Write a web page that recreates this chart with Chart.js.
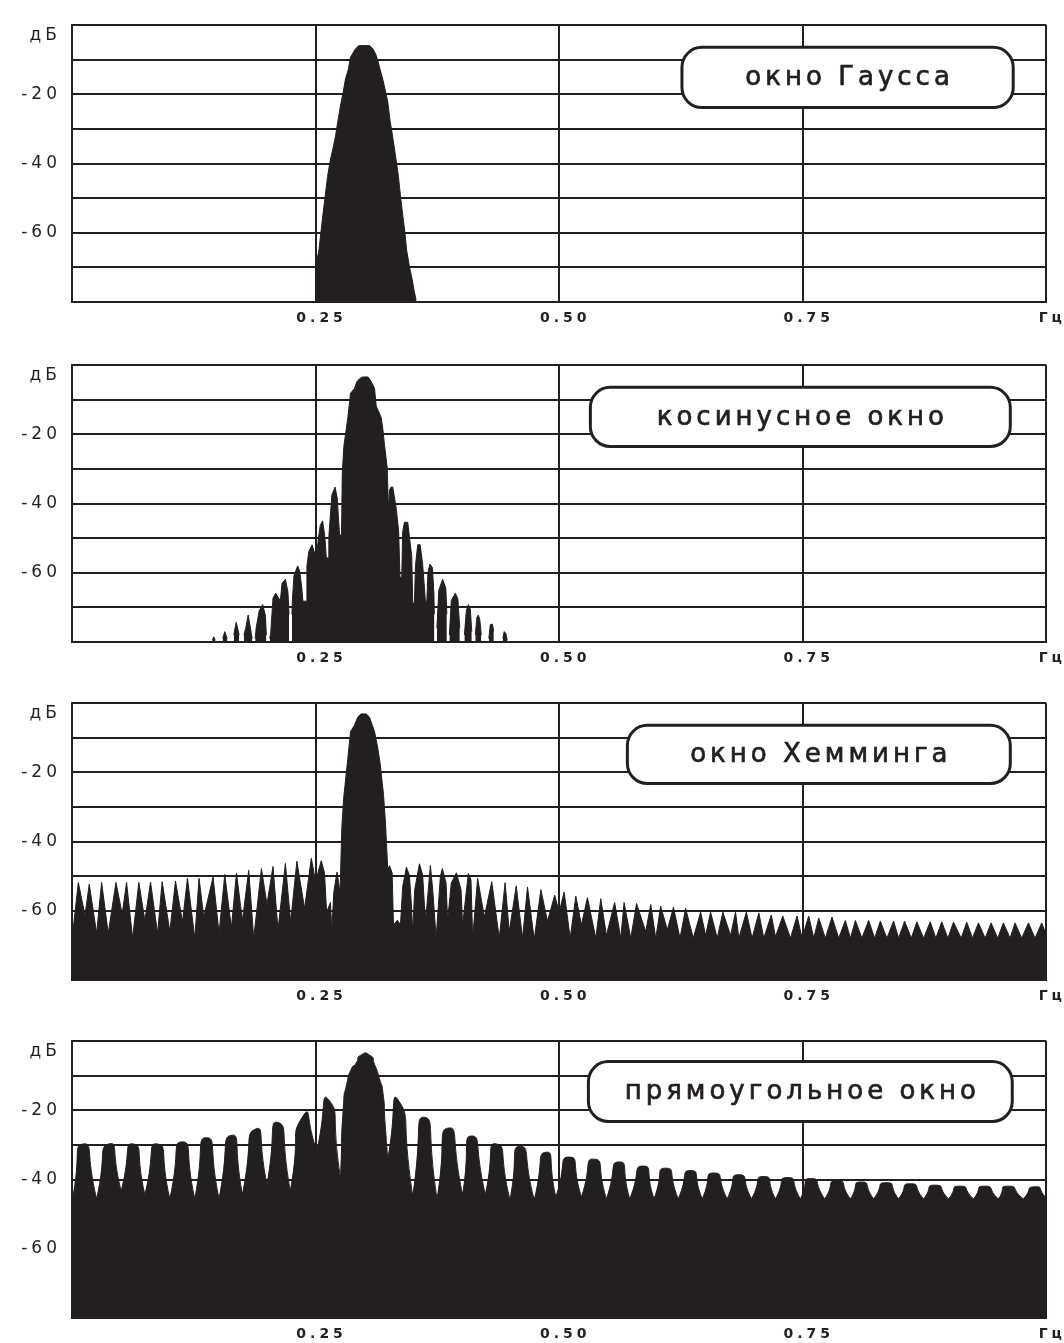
<!DOCTYPE html>
<html>
<head>
<meta charset="utf-8">
<script src="https://cdn.jsdelivr.net/npm/chart.js@4.4.1/dist/chart.umd.min.js"></script>
<style>
  html, body { margin: 0; padding: 0; background: #fff; overflow: hidden; }
  #sheet { position: relative; width: 1064px; height: 1343px; }
  #sheet canvas { position: absolute; left: 0; width: 1064px; height: 322px; }
</style>
</head>
<body>
<div id="sheet">
  <canvas id="gauss" width="1064" height="322" style="top:4px"></canvas>
  <canvas id="cosine" width="1064" height="322" style="top:344px"></canvas>
  <canvas id="hamming" width="1064" height="322" style="top:682px"></canvas>
  <canvas id="rect" width="1064" height="322" style="top:1020px"></canvas>
</div>
<script>
// Axis ticks and their captions
const freqTicks = [0, 0.25, 0.5, 0.75, 1];
const freqLabels = ['', '0.25', '0.50', '0.75', 'Гц'];
const dbTicks = [-80, -70, -60, -50, -40, -30, -20, -10, -3, 0];
const dbLabels = { '-20': '-20', '-40': '-40', '-60': '-60', '-3': 'дБ' };
const windowNames = ['окно Гаусса', 'косинусное окно', 'окно Хемминга', 'прямоугольное окно'];

// Spectrum with the Gaussian window
const gaussHz = [0.2500,0.2534,0.2554,0.2575,0.2595,0.2623,0.2651,0.2681,0.2705,0.2728,0.2759,0.2780,0.2807,0.2835,0.2859,0.2882,0.2910,0.2944,0.3053,0.3087,0.3115,0.3138,0.3163,0.3190,0.3224,0.3241,0.3265,0.3282,0.3302,0.3327,0.3350,0.3371,0.3394,0.3415,0.3435,0.3463,0.3491,0.3511,0.3532];
const gaussDb = [-69.8,-65.1,-60.0,-54.8,-50.2,-43.7,-39.0,-35.3,-32.0,-27.8,-22.7,-19.9,-15.5,-12.9,-9.2,-8.1,-6.8,-5.9,-5.9,-6.8,-8.2,-10.1,-12.9,-15.7,-19.9,-22.2,-27.8,-30.6,-34.3,-39.0,-43.7,-49.3,-54.8,-59.5,-65.1,-69.8,-73.5,-76.7,-79.5];

// Spectrum with the cosine window (null = below the visible range)
const cosHz = [0.1440,0.1455,0.1470,0.1506,0.1547,0.1568,0.1593,0.1629,0.1660,0.1685,0.1716,0.1742,0.1765,0.1783,0.1808,0.1841,0.1849,0.1865,0.1880,0.1890,0.1921,0.1957,0.1984,0.1995,0.2013,0.2029,0.2039,0.2063,0.2090,0.2121,0.2138,0.2155,0.2190,0.2216,0.2228,0.2244,0.2257,0.2262,0.2278,0.2316,0.2336,0.2357,0.2370,0.2403,0.2411,0.2431,0.2464,0.2490,0.2510,0.2531,0.2548,0.2572,0.2595,0.2610,0.2633,0.2636,0.2667,0.2700,0.2722,0.2746,0.2766,0.2774,0.2790,0.2831,0.2859,0.2900,0.2923,0.2951,0.2985,0.3036,0.3053,0.3081,0.3105,0.3122,0.3173,0.3190,0.3207,0.3235,0.3248,0.3258,0.3276,0.3292,0.3327,0.3353,0.3366,0.3384,0.3394,0.3412,0.3446,0.3463,0.3487,0.3497,0.3514,0.3525,0.3548,0.3573,0.3599,0.3627,0.3642,0.3653,0.3673,0.3699,0.3714,0.3719,0.3732,0.3745,0.3765,0.3804,0.3837,0.3847,0.3861,0.3873,0.3893,0.3934,0.3960,0.3980,0.4004,0.4027,0.4047,0.4068,0.4088,0.4103,0.4122,0.4139,0.4155,0.4170,0.4185,0.4201,0.4242,0.4278,0.4293,0.4314,0.4329,0.4375,0.4421,0.4436,0.4452,0.4467];
const cosDb = [-79.5,-78.5,-79.5,null,-79,-77,-79,null,-78,-74.3,-78,null,-78,-76,-72.2,-77.6,-79,null,-79,-76,-71,-69.2,-72.2,-78,null,-79,-77.6,-67.3,-65.9,-67.3,-68.2,-63.1,-61.9,-65.5,-72,null,-72,-67.8,-60.8,-58,-59.4,-64,-68.2,-68.2,-58,-53.8,-51.9,-54.3,-55,-49.6,-46.3,-45,-49.6,-55.7,-55.7,-49.6,-37.5,-35.2,-38.4,-49.1,-49.1,-31,-23.5,-15.1,-8.1,-6.7,-4.8,-3.9,-3.4,-3.4,-3.9,-5.3,-6.7,-11.8,-15.1,-18.4,-23,-29.6,-42.1,-36.1,-35.2,-35.2,-41.2,-48.2,-61.3,-61.3,-48.2,-45.4,-45.4,-49.6,-55.2,-68.7,-68.7,-58,-51.9,-51.9,-57.5,-68.2,-68.2,-60,-57.5,-58.5,-66,-72,null,-76,-65,-61.9,-64.5,-72,null,-78,-68,-65.9,-67.5,-76,null,-78,-71,-69.2,-70.5,-77,null,-78,-73,-72.2,-73.5,-78,null,-79,-75,-74.8,-77,null,-79,-77,-77.5,-79.5];

// Spectrum with the Hamming window
const hamHz = [0.0000,0.0065,0.0133,0.0177,0.0253,0.0304,0.0372,0.0451,0.0515,0.0560,0.0622,0.0686,0.0748,0.0806,0.0878,0.0925,0.1004,0.1062,0.1134,0.1185,0.1260,0.1304,0.1352,0.1448,0.1509,0.1568,0.1636,0.1688,0.1749,0.1814,0.1865,0.1944,0.2001,0.2063,0.2114,0.2190,0.2244,0.2308,0.2387,0.2456,0.2500,0.2558,0.2592,0.2613,0.2652,0.2667,0.2687,0.2720,0.2751,0.2769,0.2787,0.2825,0.2859,0.2900,0.2933,0.2968,0.3019,0.3053,0.3081,0.3105,0.3138,0.3163,0.3197,0.3217,0.3241,0.3258,0.3286,0.3299,0.3340,0.3371,0.3394,0.3432,0.3463,0.3480,0.3497,0.3517,0.3566,0.3599,0.3617,0.3632,0.3678,0.3702,0.3737,0.3781,0.3801,0.3839,0.3855,0.3893,0.3945,0.3993,0.4009,0.4068,0.4095,0.4112,0.4163,0.4232,0.4308,0.4385,0.4445,0.4488,0.4559,0.4624,0.4675,0.4744,0.4812,0.4880,0.4954,0.5000,0.5051,0.5113,0.5171,0.5228,0.5290,0.5376,0.5427,0.5485,0.5569,0.5632,0.5666,0.5735,0.5794,0.5888,0.5940,0.5991,0.6042,0.6110,0.6173,0.6240,0.6298,0.6376,0.6452,0.6503,0.6554,0.6622,0.6680,0.6759,0.6810,0.6844,0.6921,0.6980,0.7049,0.7100,0.7177,0.7220,0.7295,0.7374,0.7441,0.7493,0.7561,0.7613,0.7664,0.7732,0.7800,0.7869,0.7937,0.7989,0.8040,0.8107,0.8176,0.8238,0.8296,0.8364,0.8432,0.8484,0.8545,0.8614,0.8671,0.8740,0.8808,0.8866,0.8927,0.8989,0.9047,0.9126,0.9183,0.9242,0.9303,0.9372,0.9433,0.9501,0.9559,0.9628,0.9679,0.9747,0.9816,0.9884,0.9952,1.0000];
const hamDb = [-68.3,-51.8,-61.4,-52.3,-66.5,-51.8,-66.5,-51.8,-60.9,-51.8,-67.9,-51.8,-62.8,-51.7,-66.5,-51.6,-66.0,-51.4,-63.2,-50.6,-67.9,-50.6,-61.8,-50.2,-66.5,-49.5,-64.9,-49.1,-62.8,-48.3,-67.9,-47.8,-58.1,-47.2,-65.5,-46.3,-63.2,-45.7,-59.3,-44.8,-51.6,-45.5,-49.1,-60.4,-57.6,-65.5,-54.6,-48.8,-54.6,-36.2,-27.8,-17.5,-8.2,-6.3,-4.0,-3.1,-3.1,-4.0,-6.3,-8.2,-12.9,-17.5,-26.4,-34.3,-48.3,-46.9,-49.1,-64.1,-62.7,-64.1,-53.0,-47.4,-49.7,-56.7,-66.0,-53.9,-46.4,-49.7,-58.5,-62.0,-46.9,-53.9,-67.9,-50.0,-47.8,-52.0,-62.7,-52.0,-49.0,-53.9,-64.1,-49.2,-51.1,-67.9,-50.6,-61.8,-51.6,-67.9,-51.9,-66.0,-52.8,-67.9,-53.1,-68.3,-53.9,-63.0,-55.5,-60.4,-54.6,-67.9,-55.8,-64.1,-56.2,-67.9,-56.5,-67.1,-57.6,-67.9,-57.6,-67.9,-57.9,-66.0,-58.2,-67.9,-58.7,-65.5,-59.0,-67.9,-59.3,-67.9,-60.4,-67.1,-60.4,-67.9,-60.4,-67.1,-60.4,-67.9,-60.4,-67.9,-60.6,-67.9,-61.2,-67.5,-61.5,-67.9,-61.5,-67.9,-61.5,-67.9,-62.1,-67.9,-61.8,-67.9,-62.8,-67.9,-62.8,-67.9,-62.8,-67.9,-63.0,-67.9,-63.0,-67.9,-63.0,-67.9,-63.2,-67.9,-63.2,-67.9,-63.2,-67.9,-63.3,-67.9,-63.3,-67.9,-63.5,-67.9,-63.5,-67.9,-63.5,-67.9,-63.5,-67.9,-63.5,-67.9,-63.5,-67.0];

// Spectrum with the rectangular window
const rectHz = [0.0000,0.0116,0.0253,0.0379,0.0505,0.0628,0.0748,0.0876,0.1004,0.1132,0.1260,0.1380,0.1509,0.1636,0.1749,0.1883,0.2001,0.2114,0.2241,0.2377,0.2513,0.2633,0.2756,0.2787,0.2821,0.2866,0.2917,0.2961,0.3058,0.3105,0.3156,0.3190,0.3214,0.3241,0.3350,0.3497,0.3617,0.3747,0.3863,0.4009,0.4103,0.4242,0.4355,0.4495,0.4600,0.4744,0.4864,0.4966,0.5102,0.5228,0.5359,0.5485,0.5615,0.5724,0.5861,0.5973,0.6093,0.6222,0.6349,0.6468,0.6588,0.6724,0.6844,0.6974,0.7100,0.7220,0.7344,0.7476,0.7582,0.7725,0.7851,0.7989,0.8099,0.8227,0.8356,0.8484,0.8603,0.8740,0.8855,0.8996,0.9109,0.9252,0.9363,0.9508,0.9602,0.9764,0.9882,1.0000];
const rectDb = [-46.5,-29.7,-45.6,-29.7,-43.3,-29.7,-44.4,-29.7,-45.6,-29.1,-45.6,-27.9,-45.6,-27.2,-44.4,-25.4,-41.4,-23.5,-43.3,-21.4,-31.6,-16.9,-39.7,-18.1,-12.2,-8.1,-6.3,-4.1,-4.1,-6.7,-10.9,-14.6,-24.0,-34.1,-17.1,-44.8,-22.0,-45.6,-25.1,-44.4,-27.4,-44.4,-29.7,-45.9,-30.4,-45.9,-32.1,-45.1,-33.5,-45.1,-34.1,-45.6,-34.9,-45.6,-36.1,-45.6,-36.7,-45.6,-37.4,-45.6,-38.1,-45.6,-38.6,-45.6,-39.1,-45.6,-39.4,-45.6,-39.7,-45.6,-40.3,-45.6,-40.7,-45.6,-40.9,-45.6,-41.2,-45.6,-41.6,-45.6,-41.9,-45.6,-41.9,-45.6,-41.9,-45.6,-42.1,-45.3];

const INK = '#231f20';
const FONT = 'DejaVu Sans';

function toPoints(hz, db) {
  const n = Math.min(hz.length, db.length);
  const pts = [];
  for (let i = 0; i < n; i++) pts.push({ x: hz[i], y: db[i] });
  return pts;
}

// Repeat every local minimum so the smoothed curve meets it with a sharp notch
function notchMinima(pts) {
  const out = [];
  pts.forEach((p, i) => {
    out.push(p);
    const a = pts[i - 1], b = pts[i + 1];
    if (a && b && a.y !== null && b.y !== null && p.y < a.y && p.y < b.y) out.push({ x: p.x, y: p.y });
  });
  return out;
}

// Wider letter spacing for the axis captions
const wideText = {
  id: 'wideText',
  beforeDraw(chart) { chart.ctx.letterSpacing = '4px'; }
};

// Rounded caption box with the window name
const nameBox = {
  id: 'nameBox',
  afterDatasetsDraw(chart, args, o) {
    const { ctx, scales: { x, y } } = chart;
    const l = x.getPixelForValue(o.hz[0]), r = x.getPixelForValue(o.hz[1]);
    const t = y.getPixelForValue(o.db[0]), b = y.getPixelForValue(o.db[1]);
    ctx.save();
    ctx.beginPath();
    ctx.roundRect(l, t, r - l, b - t, 20);
    ctx.fillStyle = '#ffffff';
    ctx.fill();
    ctx.lineWidth = 3;
    ctx.strokeStyle = INK;
    ctx.stroke();
    ctx.font = '26px "' + FONT + '"';
    ctx.letterSpacing = '4px';
    ctx.textAlign = 'center';
    ctx.textBaseline = 'middle';
    ctx.fillStyle = INK;
    ctx.lineWidth = 0.7;
    const cx = (l + r) / 2 + 2, cy = (t + b) / 2 + 1;
    ctx.fillText(o.text, cx, cy);
    ctx.strokeText(o.text, cx, cy);
    ctx.restore();
  }
};

function spectrumChart(id, points, tension, box) {
  return new Chart(document.getElementById(id), {
    type: 'line',
    data: {
      datasets: [{
        data: points,
        borderColor: INK,
        backgroundColor: INK,
        borderWidth: 1,
        pointRadius: 0,
        fill: 'start',
        tension: tension,
        spanGaps: false
      }]
    },
    options: {
      responsive: false,
      animation: false,
      devicePixelRatio: 1,
      events: [],
      layout: { padding: { top: 12, right: 16, left: 0, bottom: 0 } },
      plugins: { legend: { display: false }, tooltip: { enabled: false }, nameBox: box },
      scales: {
        x: {
          type: 'linear', min: 0, max: 1,
          afterBuildTicks: s => { s.ticks = freqTicks.map(v => ({ value: v })); },
          afterFit: s => { s.height = 24; },
          grid: { color: INK, lineWidth: 2, drawTicks: false, tickLength: 0 },
          border: { color: INK, width: 2 },
          ticks: {
            autoSkip: false, maxRotation: 0, padding: 8, labelOffset: 6, color: INK,
            font: { family: FONT, size: 14, weight: 'bold' },
            callback: v => { const i = freqTicks.indexOf(v); return i < 0 ? '' : freqLabels[i]; }
          }
        },
        y: {
          type: 'linear', min: -80, max: 0,
          afterBuildTicks: s => { s.ticks = dbTicks.map(v => ({ value: v })); },
          afterFit: s => { s.width = 72; },
          grid: {
            color: c => (c.tick && c.tick.value === -3) ? 'rgba(0,0,0,0)' : INK,
            lineWidth: 2, drawTicks: false, tickLength: 0
          },
          border: { color: INK, width: 2 },
          ticks: {
            autoSkip: false, padding: 11, color: INK,
            font: { family: FONT, size: 17 },
            callback: v => dbLabels[v] || ''
          }
        }
      }
    },
    plugins: [wideText, nameBox]
  });
}

spectrumChart('gauss', toPoints(gaussHz, gaussDb), 0,
  { text: windowNames[0], hz: [0.626, 0.966], db: [-6.4, -23.8] });
spectrumChart('cosine', toPoints(cosHz, cosDb), 0,
  { text: windowNames[1], hz: [0.532, 0.963], db: [-6.4, -23.5] });
spectrumChart('hamming', toPoints(hamHz, hamDb), 0,
  { text: windowNames[2], hz: [0.570, 0.963], db: [-6.4, -23.2] });
spectrumChart('rect', notchMinima(toPoints(rectHz, rectDb)), 0.85,
  { text: windowNames[3], hz: [0.530, 0.965], db: [-5.9, -23.2] });
</script>
</body>
</html>
